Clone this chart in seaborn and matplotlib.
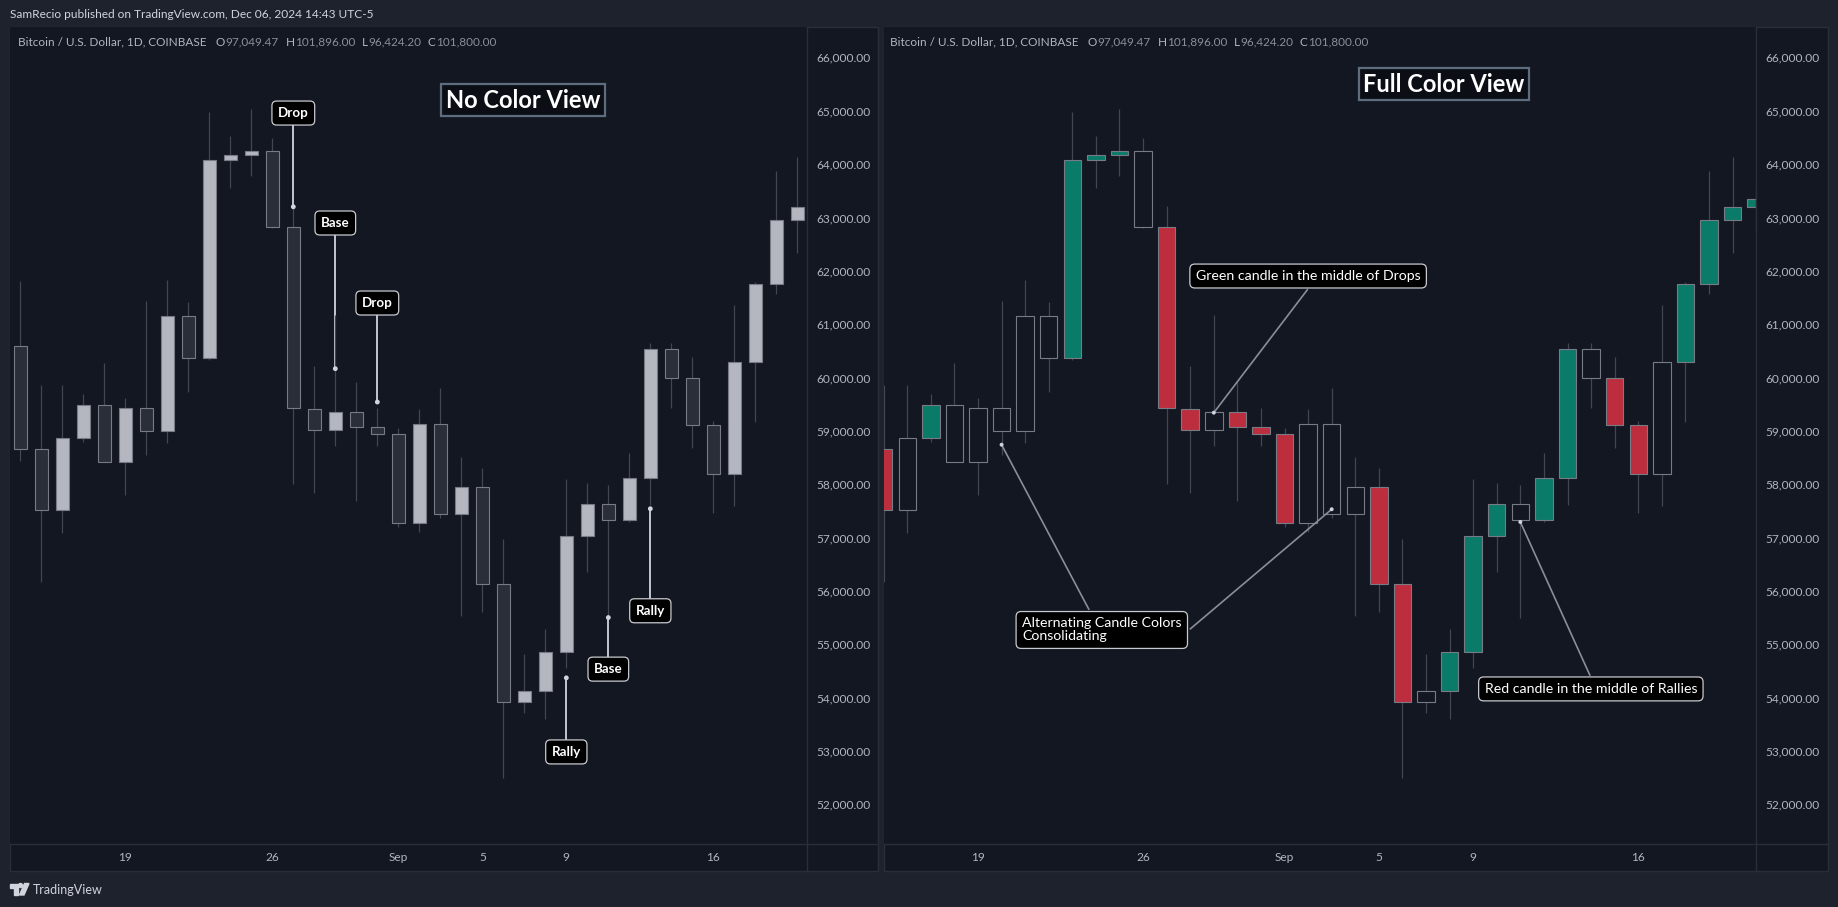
import numpy as np
import pandas as pd
import seaborn as sns
import matplotlib.pyplot as plt
from matplotlib.patches import Rectangle, Polygon, Circle
from matplotlib.lines import Line2D
from matplotlib.transforms import Affine2D

# BTC/USD daily candles (Coinbase), index 0 = Aug 14 2024 ... 38 = Sep 21 2024
opens = [60585, 58665, 57510, 58860, 59480, 58410, 59425, 58990, 61145, 60360,
         64070, 64165, 64240, 62815, 59405, 59010, 59350, 59080, 58935, 57265,
         59125, 57435, 57940, 56125, 53910, 54120, 54850, 57025, 57625, 57325,
         58110, 60530, 59985, 59105, 58185, 60285, 61745, 62945, 63190]
highs = [61810, 59860, 59860, 59690, 60265, 59610, 61435, 61820, 61410, 64970,
         64520, 65030, 64485, 63215, 60215, 61165, 59910, 59425, 59050, 59405,
         59800, 58510, 58300, 56965, 54820, 55280, 58100, 58015, 57985, 58580,
         60640, 60640, 60380, 59185, 61360, 61785, 63875, 64135, 63565]
lows = [58440, 56160, 57080, 58795, 58410, 57800, 58545, 58780, 59735, 60330,
        63555, 63780, 62795, 58010, 57840, 58720, 57690, 58720, 57190, 57110,
        57370, 55535, 55610, 52500, 53715, 53605, 54550, 56360, 55500, 57295,
        57610, 59425, 58685, 57465, 57595, 59160, 61560, 62340, 62750]
closes = [58665, 57510, 58860, 59480, 58410, 59425, 58990, 61145, 60360, 64070,
          64165, 64240, 62815, 59425, 59010, 59350, 59080, 58935, 57265, 59125,
          57435, 57940, 56125, 53910, 54120, 54850, 57025, 57625, 57325, 58110,
          60530, 59985, 59105, 58185, 60285, 61745, 62945, 63190, 63340]
# right panel: g = green, r = red, h = hollow
full_colors = list("hrhghhhhhggghrrhrrrhhhrrhggghgghrrhgggg")

date_pos = [5, 12, 18, 22, 26, 33]
date_labels = ["19", "26", "Sep", "5", "9", "16"]
price_ticks = [52000, 53000, 54000, 55000, 56000, 57000, 58000, 59000,
               60000, 61000, 62000, 63000, 64000, 65000, 66000]

legend_pieces = [("Bitcoin / U.S. Dollar, 1D, COINBASE", "k"), ("O", "k"), ("97,049.47", "v"),
                 ("H", "k"), ("101,896.00", "v"), ("L", "k"), ("96,424.20", "v"),
                 ("C", "k"), ("101,800.00", "v")]

left_notes = ["Drop", "Base", "Drop", "Rally", "Base", "Rally"]
left_note_candle = [13, 15, 17, 26, 28, 30]
left_note_price = [63200, 60165, 59540, 54370, 55500, 57540]

right_notes = ["Green candle in the middle of Drops",
               "Alternating Candle Colors\nConsolidating",
               "Red candle in the middle of Rallies"]
right_ptr_candle = [15, 6, 20, 28]
right_ptr_price = [59340, 58740, 57530, 57292]

# layout (data coords of label centres / line tails)
left_box = [(13, 64957), (15, 62896), (17, 61396), (26, 52981), (28, 54533), (30, 55627)]
right_box = [(19.0, 61902), (10.25, 55267), (30.99, 54162)]
right_tail = [(18.97, 61646), (9.70, 55655), (14.0, 55286), (30.95, 54418)]

candles = pd.DataFrame({"idx": np.arange(len(opens)), "open": opens, "high": highs,
                        "low": lows, "close": closes})

BG = "#131722"
PAGE = "#1e222d"
LINE = "#2a2e39"
WICK = "#434651"
EDGE = "#787b86"
TXT = "#b2b5be"

sns.set_theme(style="dark", rc={"axes.facecolor": BG, "figure.facecolor": PAGE})
plt.rcParams["font.family"] = ["Lato", "DejaVu Sans"]

W, H = 1838, 907
fig = plt.figure(figsize=(W / 100, H / 100), dpi=100)
fig.patch.set_facecolor(PAGE)
pxT = Affine2D().scale(1 / W, -1 / H).translate(0, 1) + fig.transFigure


def fig_line(x0, y0, x1, y1):
    fig.add_artist(Line2D([x0, x1], [y0, y1], transform=pxT, color=LINE, lw=1))


def chain_text(x, y, pieces):
    r = fig.canvas.get_renderer()
    for i, (s, kind) in enumerate(pieces):
        c = TXT if kind == "k" else "#8b8e98"
        t = fig.text(x, y, s, transform=pxT, color=c, fontsize=8.5, va="center")
        x += t.get_window_extent(renderer=r).width
        if i == 0:
            x += 9
        elif kind == "v":
            x += 7


def panel(x0, x1, xaxis_end, xlim, fills, width):
    fig.add_artist(Rectangle((x0, 26.5), x1 - x0, 871 - 26.5, transform=pxT,
                             facecolor=BG, edgecolor=LINE, lw=1, zorder=0))
    ax = fig.add_axes([x0 / W, 1 - 844 / H, (xaxis_end - x0) / W, (844 - 27) / H])
    ax.set_facecolor(BG)
    ax.vlines(candles.idx, candles.low, candles.high, color=WICK, lw=0.9, zorder=2)
    body = (candles.close - candles.open).abs().clip(lower=10)
    bottom = candles[["open", "close"]].min(axis=1)
    ax.bar(candles.idx, body, bottom=bottom, width=width, color=fills,
           edgecolor=EDGE, linewidth=0.8, zorder=3)
    ax.set_xlim(*xlim)
    ax.set_ylim(51255, 66570)
    ax.yaxis.tick_right()
    ax.set_yticks(price_ticks)
    ax.set_yticklabels([f"{v:,.2f}" for v in price_ticks])
    ax.set_xticks(date_pos)
    ax.set_xticklabels(date_labels)
    ax.tick_params(axis="y", length=0, pad=7, colors=TXT, labelsize=8.6)
    ax.tick_params(axis="x", length=0, pad=6, colors=TXT, labelsize=8.6)
    for s in ax.spines.values():
        s.set_visible(False)
    ax.grid(False)
    fig_line(x0, 844, x1, 844)
    fig_line(xaxis_end, 27, xaxis_end, 871)
    return ax


# left panel: no colour view
left_fill = ["#b4b7c0" if c >= o else "#2a2e39" for o, c in zip(opens, closes)]
axl = panel(9.5, 878, 807, (-0.514, 37.46), left_fill, 0.64)

# right panel: full colour view
cmap = {"g": "#0b7b69", "r": "#bc2e3e", "h": BG}
right_fill = [cmap[c] for c in full_colors]
axr = panel(884, 1828, 1756, (1.0136, 37.994), right_fill, 0.74)

# left annotations
for (bx, by), n, ci, cp in zip(left_box, left_notes, left_note_candle, left_note_price):
    axl.plot([bx, ci], [by, cp], color="#d1d4dc", lw=1.3, zorder=1)
    axl.text(bx, by, n, ha="center", va="center", color="white", fontsize=9.6,
             fontweight="bold", zorder=8,
             bbox=dict(boxstyle="round,pad=0.45,rounding_size=0.35", fc="black",
                       ec="#c8cad0", lw=0.9))
sns.scatterplot(x=left_note_candle, y=left_note_price, ax=axl, s=12, color="#d1d4dc",
                edgecolor="none", zorder=7, legend=False)

# right annotations
for (tx, ty), ci, cp in zip(right_tail, right_ptr_candle, right_ptr_price):
    axr.plot([tx, ci], [ty, cp], color="#8b8e98", lw=1.2, zorder=4)
for (bx, by), n in zip(right_box, right_notes):
    axr.text(bx, by, n, ha="center", va="center", multialignment="left", color="white",
             fontsize=10.2, zorder=8, linespacing=1.1,
             bbox=dict(boxstyle="round,pad=0.42,rounding_size=0.35", fc="black",
                       ec="#c8cad0", lw=0.9))
sns.scatterplot(x=right_ptr_candle, y=right_ptr_price, ax=axr, s=8, color="#d1d4dc",
                edgecolor="none", zorder=7, legend=False)

# titles
for x, y, s in [(523, 100, "No Color View"), (1444, 84, "Full Color View")]:
    fig.text(x, y, s, transform=pxT, ha="center", va="center", color="white",
             fontsize=17, fontweight="bold",
             bbox=dict(boxstyle="square,pad=0.2", fc="#0b0e15", ec="#5d6d7e", lw=1.6))

# header / legends / footer
fig.text(10, 14.5, "SamRecio published on TradingView.com, Dec 06, 2024 14:43 UTC-5",
         transform=pxT, color="#d1d4dc", fontsize=8.55, va="center")
chain_text(18.5, 42, legend_pieces)
chain_text(890.5, 42, legend_pieces)

logo = "#d1d4dc"
fig.add_artist(Polygon([(10, 883.5), (17.5, 883.5), (17.5, 895), (14, 895), (14, 887.5),
                        (10, 887.5)], closed=True, transform=pxT, color=logo))
fig.add_artist(Circle((20.5, 885.5), 2, transform=pxT, color=logo))
fig.add_artist(Polygon([(24.5, 883.5), (29, 883.5), (24, 895), (19.5, 895)], closed=True,
                       transform=pxT, color=logo))
fig.text(33, 889.5, "TradingView", transform=pxT, color=logo, fontsize=9, va="center")

fig.savefig("out.png", dpi=100, facecolor=PAGE)
